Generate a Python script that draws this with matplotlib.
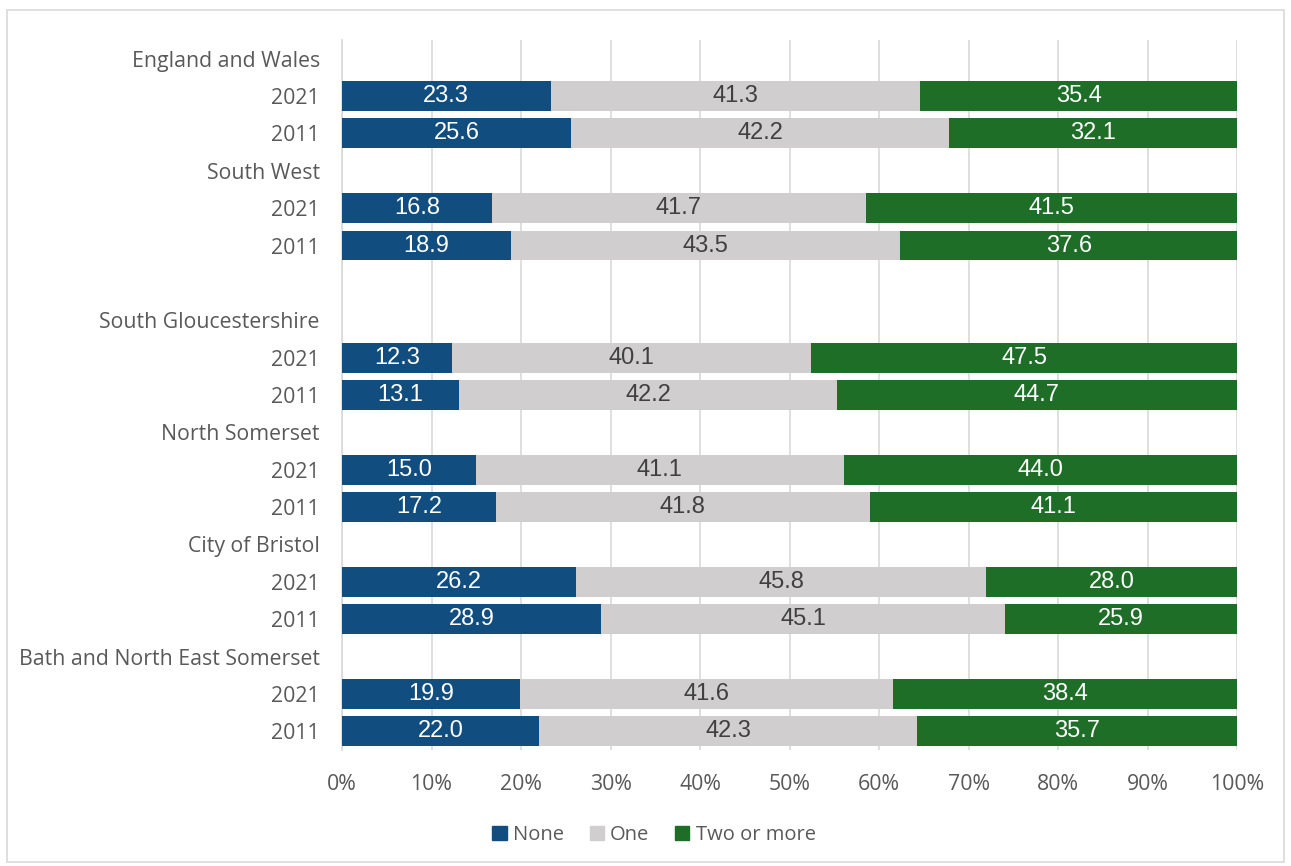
import numpy as np
import matplotlib.pyplot as plt
from matplotlib.patches import Rectangle

# Areas and shares of households by number of cars (%), 2021 then 2011
areas = ["England and Wales", "South West", None, "South Gloucestershire",
         "North Somerset", "City of Bristol", "Bath and North East Somerset"]
years = ["2021", "2011"]
none_vals = [[23.3, 25.6], [16.8, 18.9], [12.3, 13.1], [15.0, 17.2], [26.2, 28.9], [19.9, 22.0]]
one_vals = [[41.3, 42.2], [41.7, 43.5], [40.1, 42.2], [41.1, 41.8], [45.8, 45.1], [41.6, 42.3]]
two_vals = [[35.4, 32.1], [41.5, 37.6], [47.5, 44.7], [44.0, 41.1], [28.0, 25.9], [38.4, 35.7]]
series_names = ["None", "One", "Two or more"]

colors = ["#114d7e", "#d0cecf", "#1e6e28"]
text_colors = ["white", "#404040", "white"]
grey = "#595959"

# build the row layout: header row, then one row per year; None = blank spacer row
row_labels = []
bar_rows = []
k = 0
for a in areas:
    if a is None:
        row_labels.append("")
        continue
    row_labels.append(a)
    for j, y in enumerate(years):
        bar_rows.append((len(row_labels), k, j))
        row_labels.append(y)
    k += 1

fig = plt.figure(figsize=(12.91, 8.66), dpi=100)
fig.patches.append(Rectangle((7 / 1291, 4 / 866), 1 - 14 / 1291, 1 - 14 / 866,
                             transform=fig.transFigure, fill=False,
                             edgecolor="#d9d9d9", linewidth=1.2))
ax = fig.add_axes([342 / 1291, 1 - 750 / 866, 895 / 1291, 710 / 866])

for pos, i, j in bar_rows:
    vals = [none_vals[i][j], one_vals[i][j], two_vals[i][j]]
    total = sum(vals)
    left = 0
    for s, v in enumerate(vals):
        w = v / total * 100
        ax.barh(pos, w, left=left, height=0.8, color=colors[s], zorder=3)
        ax.text(left + w / 2, pos, f"{v:.1f}", ha="center", va="center",
                color=text_colors[s], fontsize=17, family="Liberation Sans", zorder=4)
        left += w

ax.set_ylim(len(row_labels) - 0.5, -0.5)
ax.set_xlim(0, 100)
ax.set_yticks(range(len(row_labels)))
ax.set_yticklabels(row_labels, fontsize=15.3, color=grey, family="Open Sans")
ax.set_xticks(np.arange(0, 101, 10))
ax.set_xticklabels([f"{x}%" for x in range(0, 101, 10)], fontsize=15.3,
                   color=grey, family="Open Sans")
ax.tick_params(axis="y", length=0, pad=16)
ax.tick_params(axis="x", length=0, pad=17)
ax.grid(axis="x", color="#d9d9d9", linewidth=1.2, zorder=0)
for side in ["top", "right", "bottom"]:
    ax.spines[side].set_visible(False)
ax.spines["left"].set_color("#d9d9d9")
ax.spines["left"].set_linewidth(1.2)

handles = [Rectangle((0, 0), 1, 1, color=c) for c in colors]
fig.legend(handles, series_names, loc="center", bbox_to_anchor=(654 / 1291, 1 - 835 / 866),
           ncol=3, frameon=False, handlelength=0.7, handleheight=0.7, handletextpad=0.3,
           columnspacing=1.3, prop={"family": "Open Sans", "size": 14.5},
           labelcolor=grey)

fig.savefig("out.png", dpi=100)
